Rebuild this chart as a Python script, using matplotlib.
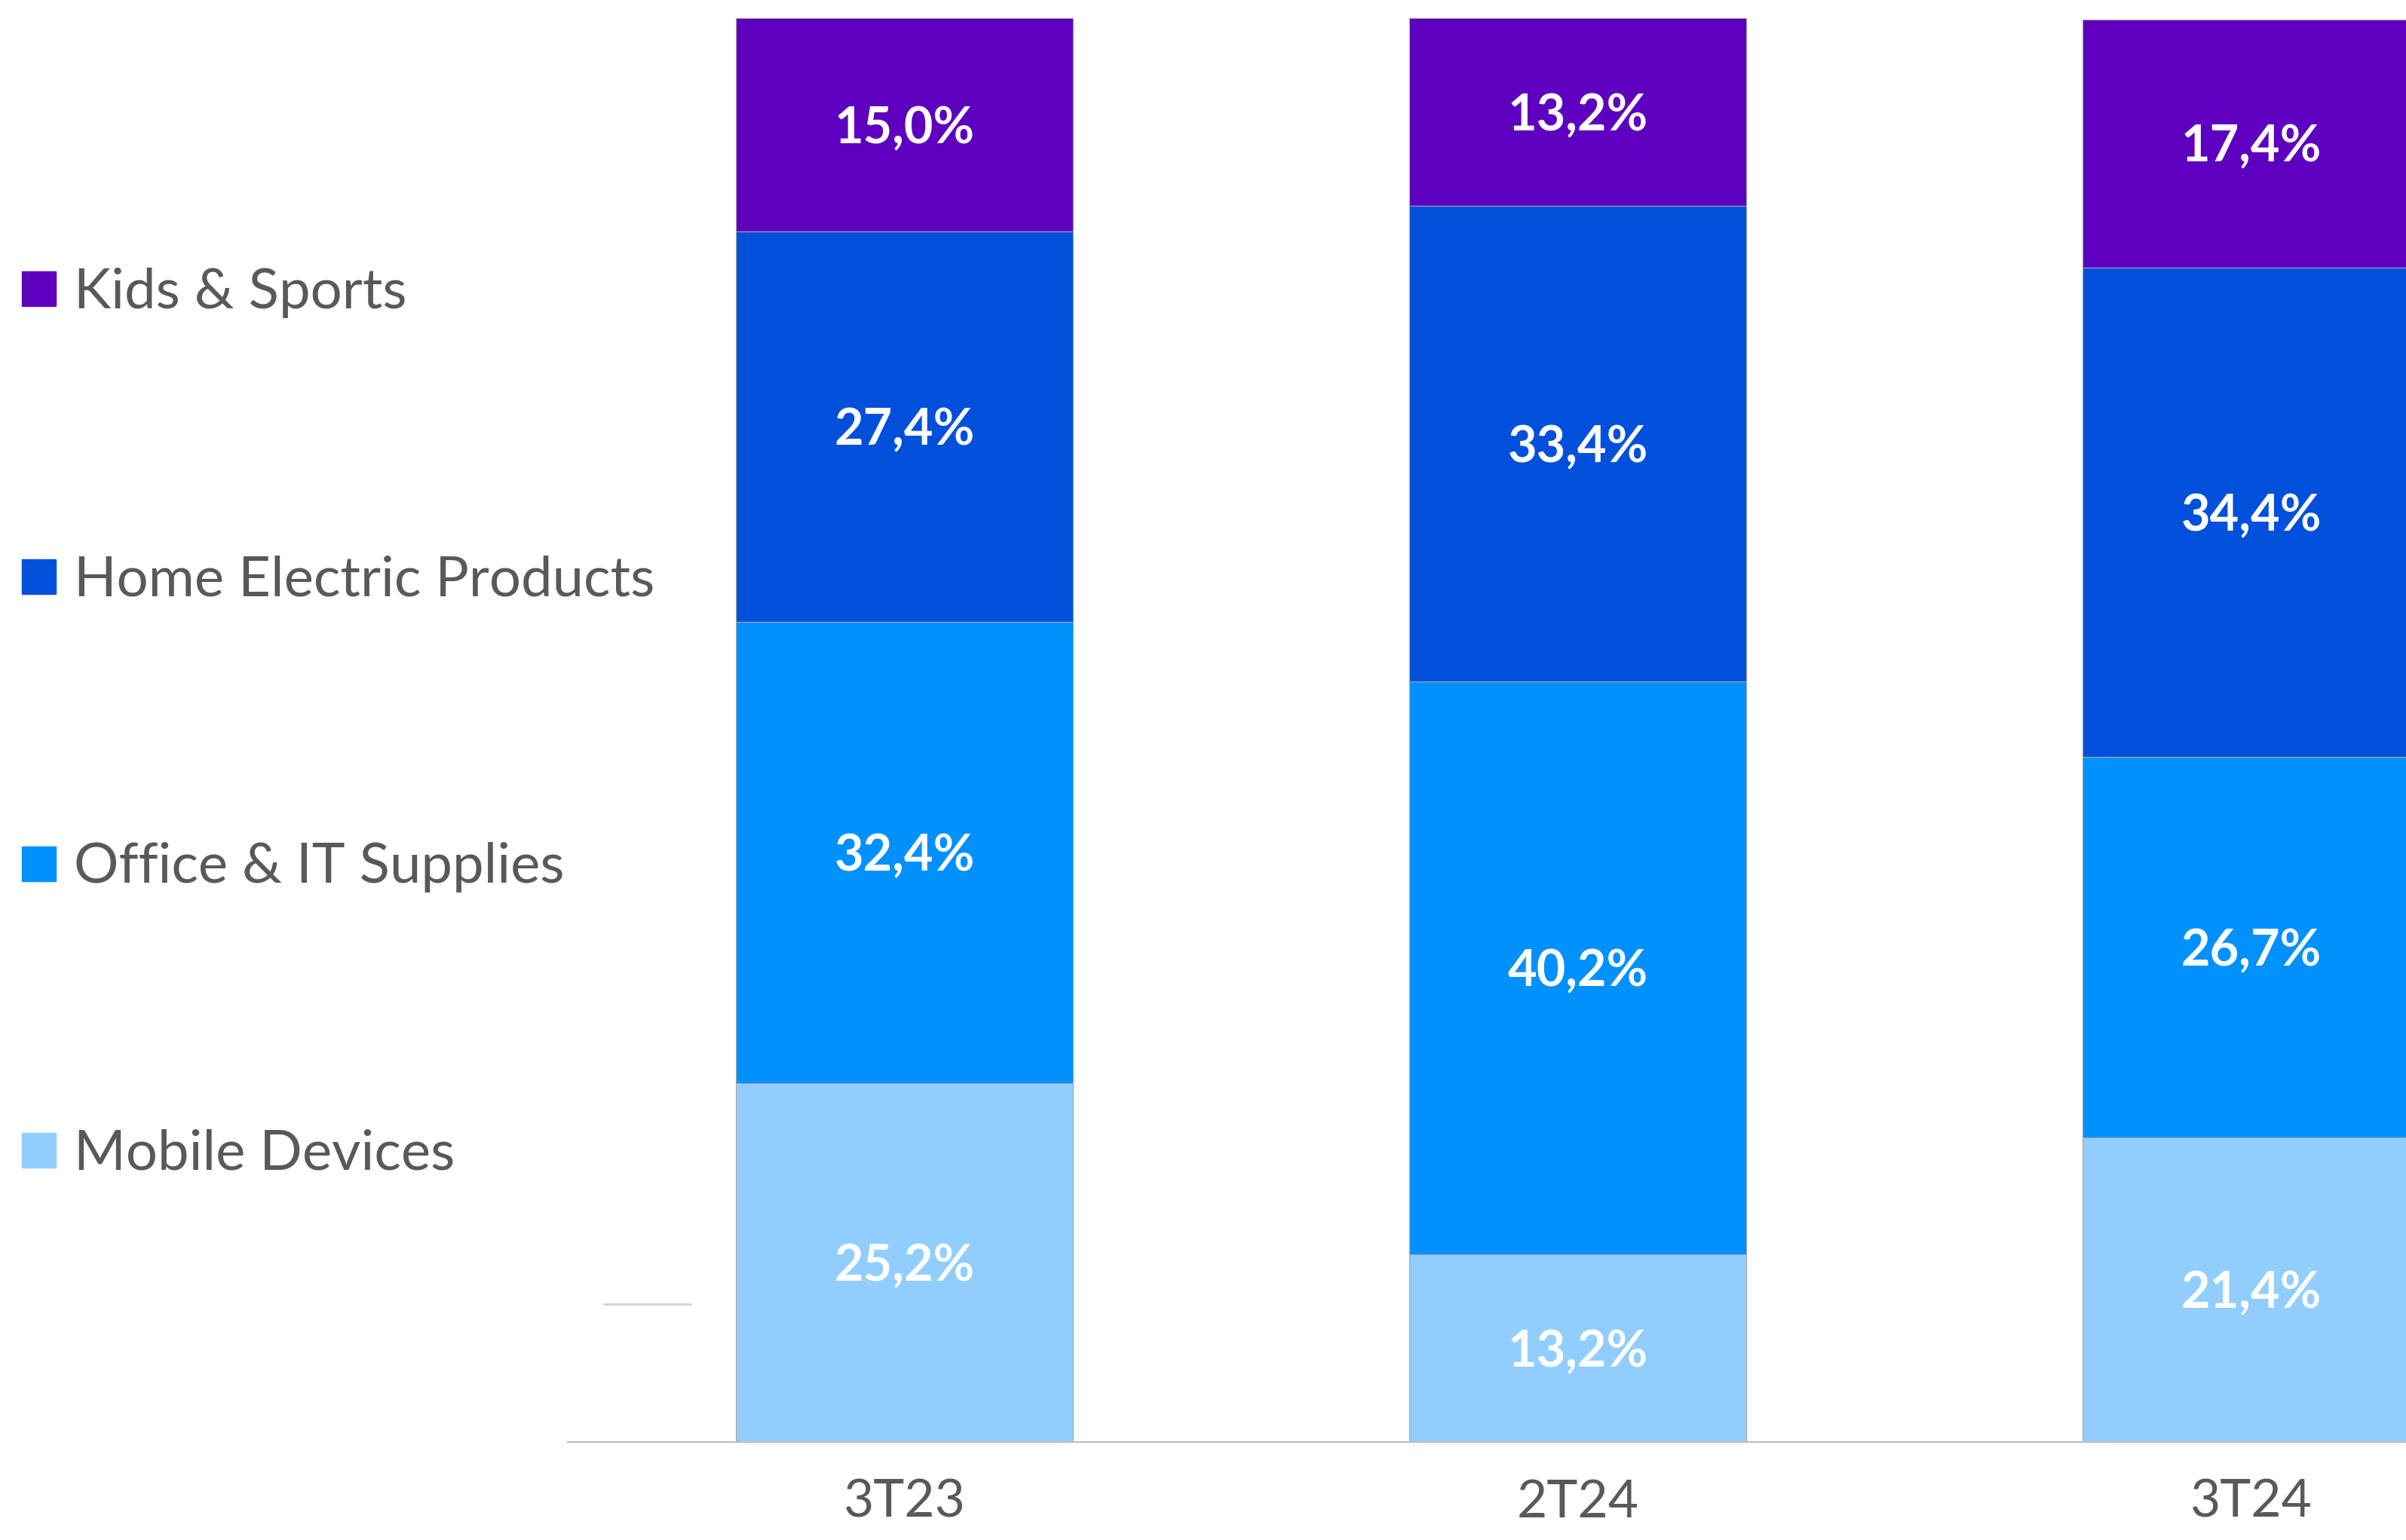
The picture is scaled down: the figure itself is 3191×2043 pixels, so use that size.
import numpy as np
import matplotlib.pyplot as plt
from matplotlib.patches import Rectangle

# share of sales by category, per quarter
periods = ['3T23', '2T24', '3T24']
categories = ['Mobile Devices', 'Office & IT Supplies', 'Home Electric Products', 'Kids & Sports']
mobile = [25.2, 13.2, 21.4]
office = [32.4, 40.2, 26.7]
home = [27.4, 33.4, 34.4]
kids = [15.0, 13.2, 17.4]
colors = ['#91CEFF', '#0091FF', '#0050DC', '#5E00BF']

plt.rcParams['font.family'] = ['Lato', 'DejaVu Sans']
text_gray = '#595959'

W, H = 3191, 2043
fig = plt.figure(figsize=(W / 100, H / 100), dpi=100)
ax = fig.add_axes([753 / W, 130 / H, (W - 753) / W, 1889 / H])

x = np.arange(len(periods))
bottom = np.zeros(len(periods))
for series, color in zip([mobile, office, home, kids], colors):
    vals = np.array(series)
    ax.bar(x, vals, width=0.5, bottom=bottom, color=color,
           edgecolor='#A6A6A6', linewidth=0.8)
    for xi, b, v in zip(x, bottom, vals):
        ax.annotate(f'{v:.1f}'.replace('.', ',') + '%', (xi, b + v / 2),
                    xytext=(0, -4), textcoords='offset points',
                    ha='center', va='center', color='white',
                    fontsize=48, fontweight='bold')
    bottom += vals

ax.set_xlim(-0.5, 2.23)
ax.set_ylim(0, 100)
ax.set_yticks([])
ax.set_xticks(x)
ax.set_xticklabels(periods, fontsize=50, color=text_gray)
ax.tick_params(axis='x', length=0, pad=35)
for side in ['left', 'right', 'top']:
    ax.spines[side].set_visible(False)
ax.spines['bottom'].set_color('#BFBFBF')
ax.spines['bottom'].set_linewidth(1.6)

# stray little tick on the left
ax.plot([-0.446, -0.318], [9.7, 9.7], color='#D4D4D4', lw=2, clip_on=False)

# legend down the left side, top entry first
rows_y = [383, 765, 1146, 1526]
for yc, name, color in zip(rows_y, categories[::-1], colors[::-1]):
    fig.add_artist(Rectangle((29 / W, 1 - (yc + 23) / H), 45 / W, 46 / H,
                             transform=fig.transFigure, color=color))
    fig.text(98 / W, 1 - (yc + 5) / H, name, ha='left', va='center',
             fontsize=53.5, color=text_gray)

fig.savefig('out.png', dpi=100)
